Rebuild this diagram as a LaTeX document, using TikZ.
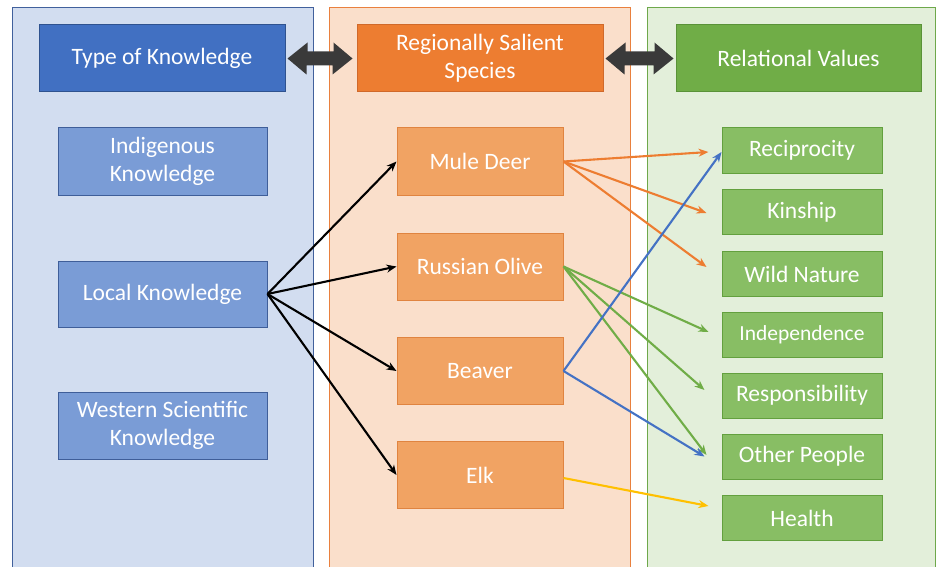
\documentclass[tikz,border=0pt]{standalone}
\usepackage{fontspec}
\setmainfont{Carlito}
\usetikzlibrary{arrows.meta,calc}
\definecolor{panelB}{HTML}{D2DDF0}
\definecolor{panelBline}{HTML}{41609C}
\definecolor{panelO}{HTML}{FADFCB}
\definecolor{panelOline}{HTML}{E9803E}
\definecolor{panelG}{HTML}{E3EFDA}
\definecolor{panelGline}{HTML}{6EA84B}
\definecolor{headB}{HTML}{4170C2}
\definecolor{headBline}{HTML}{2F528F}
\definecolor{headO}{HTML}{ED7D31}
\definecolor{headOline}{HTML}{D0692A}
\definecolor{headG}{HTML}{70AD47}
\definecolor{headGline}{HTML}{5A9238}
\definecolor{subB}{HTML}{7A9CD6}
\definecolor{subBline}{HTML}{3F5E99}
\definecolor{subO}{HTML}{F1A363}
\definecolor{subOline}{HTML}{E08440}
\definecolor{subG}{HTML}{88BE64}
\definecolor{subGline}{HTML}{63A03E}
\definecolor{dblarrow}{HTML}{3A3A3A}
\definecolor{arrO}{HTML}{ED7D31}
\definecolor{arrG}{HTML}{70AD47}
\definecolor{arrB}{HTML}{4472C4}
\definecolor{arrY}{HTML}{FFC000}
\tikzset{
  x=1pt, y=-1pt,
  box/.style={rectangle, text=white, align=center, inner sep=0pt,
    font=\fontsize{23.5}{28}\selectfont, line width=1pt},
  headbox/.style={box, minimum height=67pt},
  bigbox/.style={box, minimum height=67pt},
  valbox/.style={box, minimum height=45pt, minimum width=160pt, fill=subG, draw=subGline},
  link/.style={line width=2.1pt, -{Stealth[length=10pt,width=8pt]}},
}
\begin{document}
\begin{tikzpicture}
\useasboundingbox (0,0) rectangle (937,567);
\fill[white] (0,0) rectangle (937,567);
% panels
\fill[panelB] (12,8) rectangle (313,567);
\draw[panelBline, line width=1pt] (12,567) -- (12,8) -- (313,8) -- (313,567);
\fill[panelO] (329,8) rectangle (630,567);
\draw[panelOline, line width=1pt] (329,567) -- (329,8) -- (630,8) -- (630,567);
\fill[panelG] (647,8) rectangle (935,567);
\draw[panelGline, line width=1pt] (647,567) -- (647,8) -- (935,8) -- (935,567);

% headers
\node[headbox, minimum width=246pt, fill=headB, draw=headBline] (h1) at (162,58.5) {Type of Knowledge};
\node[headbox, minimum width=246pt, fill=headO, draw=headOline] (h2) at (480,58.5) {Regionally Salient\\Species};
\node[headbox, minimum width=245pt, fill=headG, draw=headGline] (h3) at (798.5,58.5) {Relational Values};

% double arrows between headers
\fill[dblarrow] ($(h1.east)+(2,0)$) -- ++(20,-16) -- ++(0,9) -- ++(26,0) -- ++(0,-9)
  -- ($(h2.west)+(-4,0)$) -- ++(-20,16) -- ++(0,-9) -- ++(-26,0) -- ++(0,9) -- cycle;
\fill[dblarrow] ($(h2.east)+(2,0)$) -- ++(20,-16) -- ++(0,9) -- ++(29,0) -- ++(0,-9)
  -- ($(h3.west)+(-2,0)$) -- ++(-20,16) -- ++(0,-9) -- ++(-29,0) -- ++(0,9) -- cycle;

% knowledge types
\node[bigbox, minimum width=209pt, fill=subB, draw=subBline] (ik) at (162.5,161.5) {Indigenous\\Knowledge};
\node[bigbox, minimum width=209pt, minimum height=66pt, fill=subB, draw=subBline] (lk) at (162.5,294) {Local Knowledge};
\node[bigbox, minimum width=209pt, fill=subB, draw=subBline] (wk) at (162.5,425.5) {Western Scientific\\Knowledge};

% species
\node[bigbox, minimum width=166pt, fill=subO, draw=subOline] (md) at (480,161.5) {Mule Deer};
\node[bigbox, minimum width=166pt, fill=subO, draw=subOline] (ro) at (480,266.5) {Russian Olive};
\node[bigbox, minimum width=166pt, fill=subO, draw=subOline] (bv) at (480,371) {Beaver};
\node[bigbox, minimum width=166pt, fill=subO, draw=subOline] (elk) at (480,475) {Elk};

% values
\node[valbox] (rec) at (802,150.5) {Reciprocity};
\node[valbox] (kin) at (802,212) {Kinship};
\node[valbox] (wn) at (802,274) {Wild Nature};
\node[valbox, font=\fontsize{21.5}{26}\selectfont] (ind) at (802,334.5) {Independence};
\node[valbox] (resp) at (802,395.5) {Responsibility};
\node[valbox] (op) at (802,456.5) {Other People};
\node[valbox] (hl) at (802,518) {Health};

% black arrows
\draw[link, black] (lk.east) -- (md.west);
\draw[link, black] (lk.east) -- (ro.west);
\draw[link, black] (lk.east) -- (bv.west);
\draw[link, black] (lk.east) -- (elk.west);

% orange arrows
\draw[link, arrO] (md.east) -- ($(rec.west)+(-13,1.5)$);
\draw[link, arrO] (md.east) -- ($(kin.west)+(-15,1)$);
\draw[link, arrO] (md.east) -- ($(wn.west)+(-15,-7)$);

% green arrows
\draw[link, arrG] (ro.east) -- ($(ind.west)+(-13,-2.5)$);
\draw[link, arrG] (ro.east) -- ($(resp.west)+(-17,-5.5)$);
\draw[link, arrG] (ro.east) -- ($(op.west)+(-15,-1.5)$);

% blue arrows
\draw[link, arrB] (bv.east) -- ($(rec.west)+(0,1.5)$);
\draw[link, arrB] (bv.east) -- ($(op.west)+(-17,0)$);

% yellow arrow
\draw[link, arrY] ($(elk.east)+(0,3)$) -- ($(hl.west)+(-13,-12)$);
\end{tikzpicture}
\end{document}
